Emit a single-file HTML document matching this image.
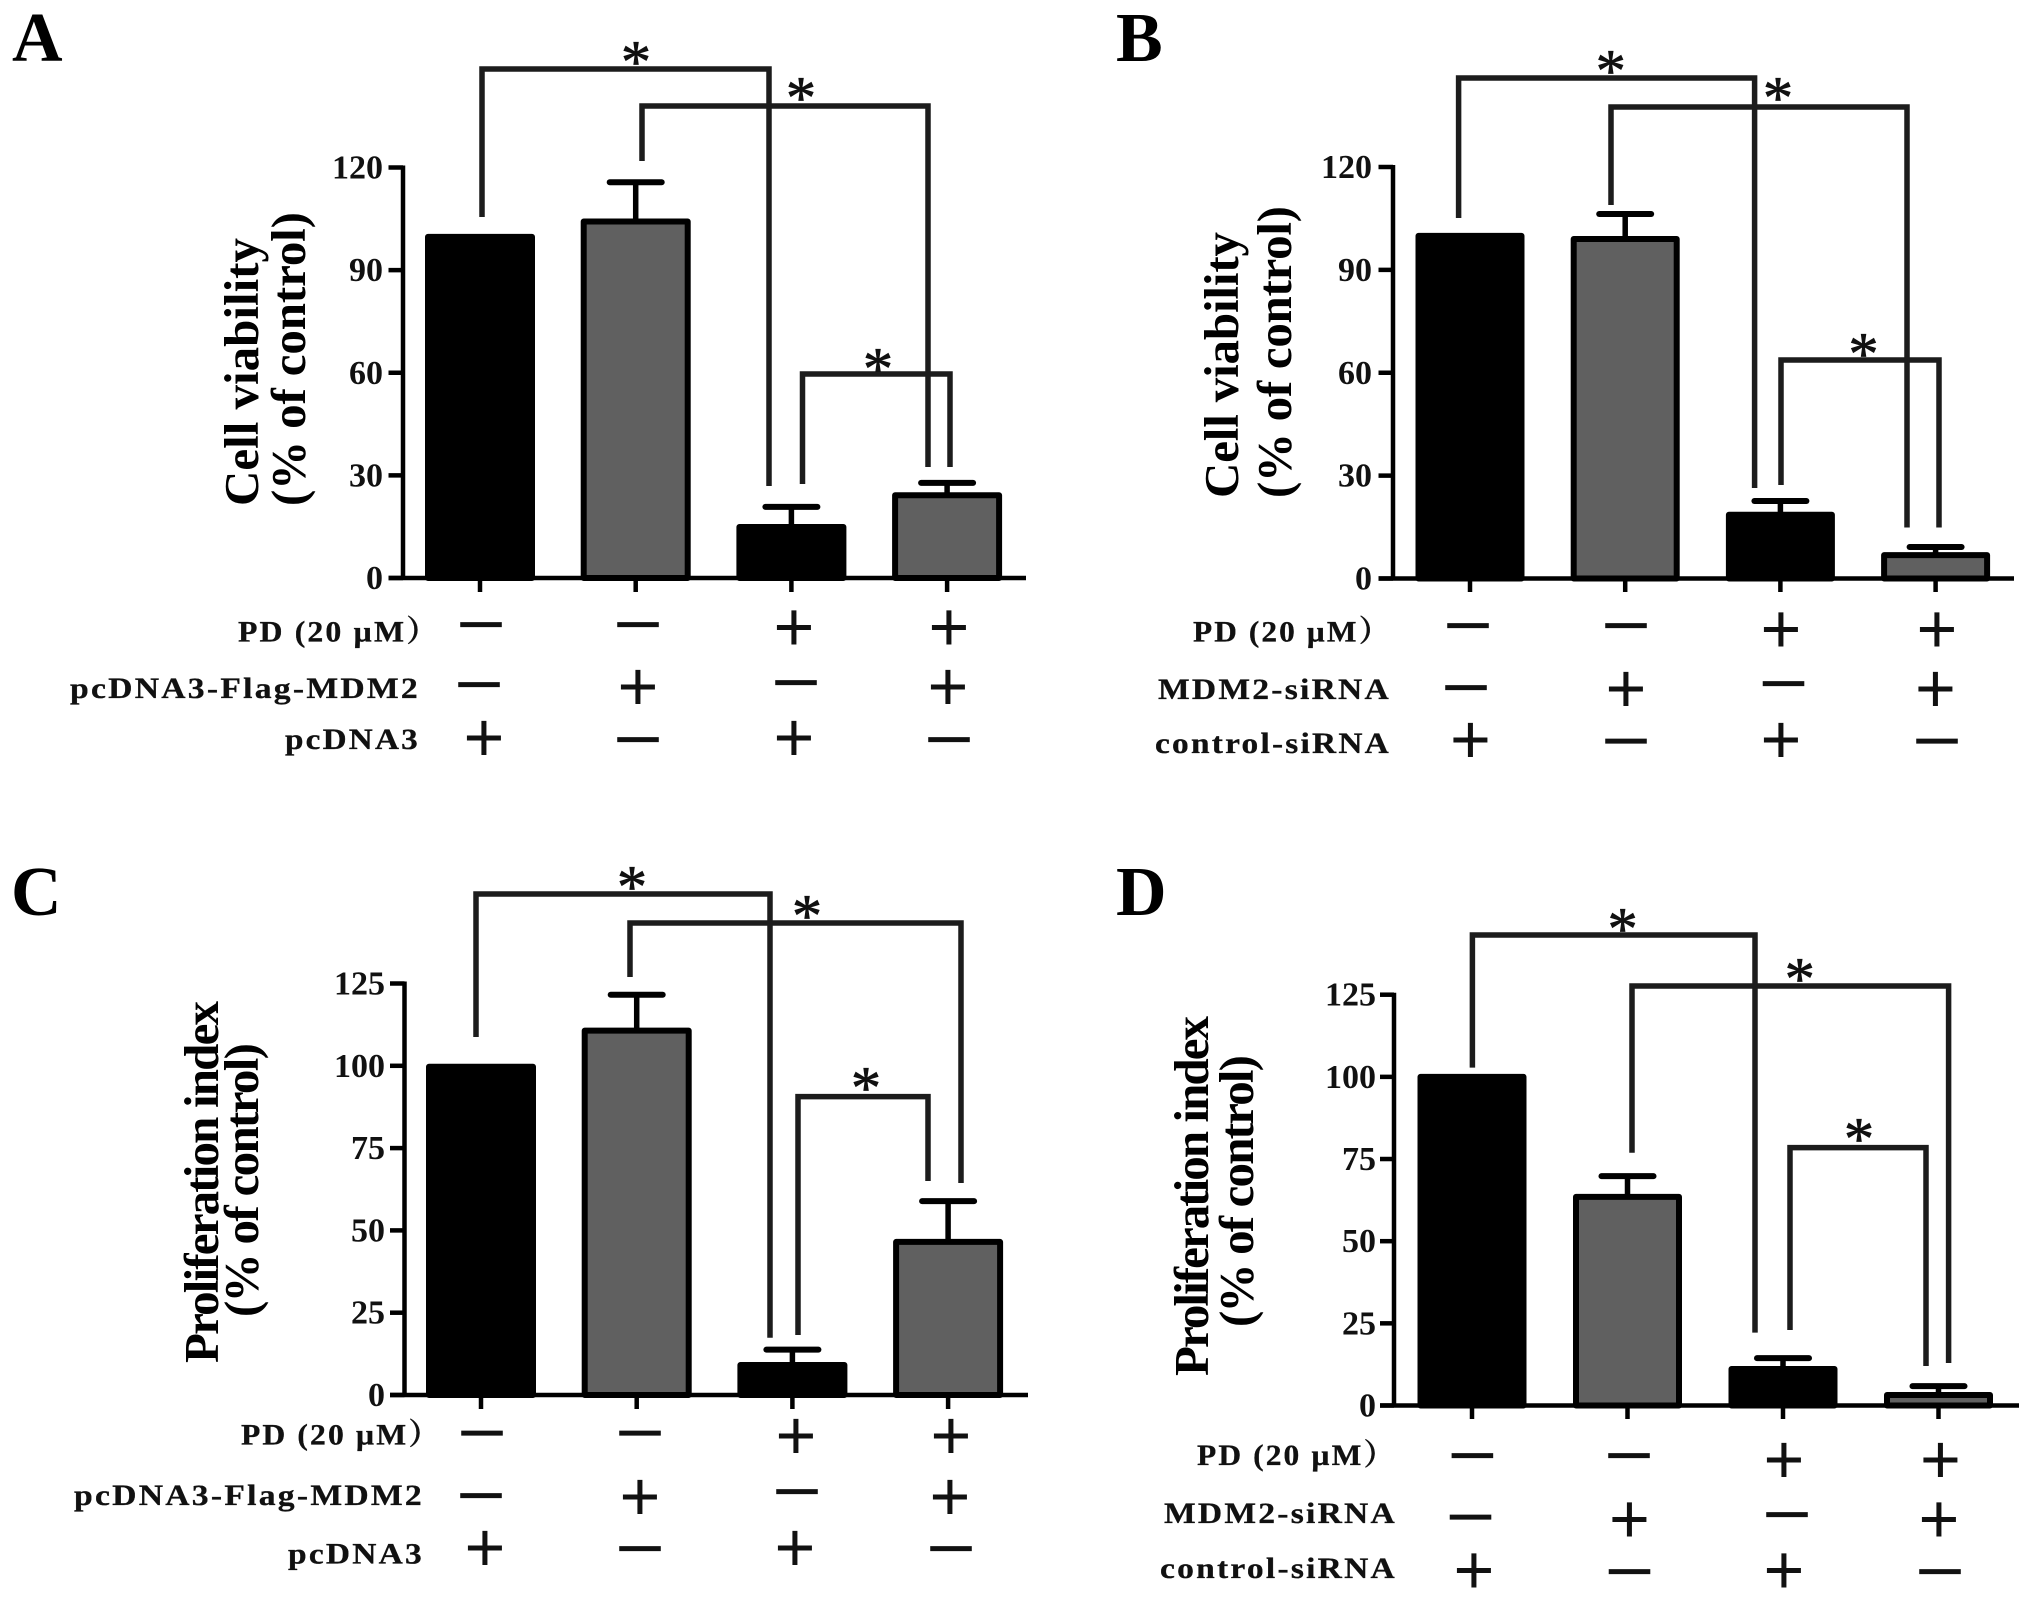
<!DOCTYPE html>
<html lang="en">
<head>
<meta charset="utf-8">
<title>Cell viability and proliferation panels</title>
<style>
html,body{margin:0;padding:0;background:#fff;}
#figure{display:block;width:2031px;height:1599px;background:#fff;}
.letter{font:bold 70px "Liberation Serif",serif;fill:#000;}
.title{font:bold 49px "Liberation Serif",serif;fill:#000;}
.row{font:bold 30px "Liberation Serif","Noto Serif CJK SC",serif;fill:#111;letter-spacing:2px;stroke:#111;stroke-width:.3px;}
.tick{font:bold 34px "Liberation Serif",serif;fill:#111;text-anchor:end;}
.star{font:60px "Liberation Serif",serif;fill:#111;stroke:#111;stroke-width:.8px;text-anchor:middle;}
.sign{font-family:"Liberation Sans",sans-serif;fill:#111;text-anchor:middle;}
</style>
</head>
<body>
<svg id="figure" xmlns="http://www.w3.org/2000/svg" width="2031" height="1599" viewBox="0 0 2031 1599">
  <g id="panel-a">
    <text class="letter" x="12" y="61">A</text>
    <text class="title" transform="translate(258,506) rotate(-90)" textLength="268">Cell viability</text>
    <text class="title" transform="translate(305,506) rotate(-90)" textLength="294">(% of control)</text>
    <text class="row" x="238" y="641.5" textLength="202" lengthAdjust="spacingAndGlyphs">PD (20 µM）</text>
    <text class="row" x="70" y="698" textLength="350" lengthAdjust="spacingAndGlyphs">pcDNA3-Flag-MDM2</text>
    <text class="row" x="285" y="749" textLength="135" lengthAdjust="spacingAndGlyphs">pcDNA3</text>
  </g>
  <g id="panel-b">
    <text class="letter" x="1116" y="61">B</text>
    <text class="title" transform="translate(1238,498) rotate(-90)" textLength="266">Cell viability</text>
    <text class="title" transform="translate(1291,498) rotate(-90)" textLength="292">(% of control)</text>
    <text class="row" x="1193" y="641.5" textLength="199" lengthAdjust="spacingAndGlyphs">PD (20 µM）</text>
    <text class="row" x="1158" y="699" textLength="233" lengthAdjust="spacingAndGlyphs">MDM2-siRNA</text>
    <text class="row" x="1155" y="753" textLength="236" lengthAdjust="spacingAndGlyphs">control-siRNA</text>
  </g>
  <g id="panel-c">
    <text class="letter" x="11" y="915">C</text>
    <text class="title" transform="translate(218,1363) rotate(-90)" textLength="362">Proliferation index</text>
    <text class="title" transform="translate(258,1317) rotate(-90)" textLength="274">(% of control)</text>
    <text class="row" x="241" y="1444.5" textLength="201" lengthAdjust="spacingAndGlyphs">PD (20 µM）</text>
    <text class="row" x="74" y="1505" textLength="350" lengthAdjust="spacingAndGlyphs">pcDNA3-Flag-MDM2</text>
    <text class="row" x="288" y="1563.5" textLength="136" lengthAdjust="spacingAndGlyphs">pcDNA3</text>
  </g>
  <g id="panel-d">
    <text class="letter" x="1116" y="915">D</text>
    <text class="title" transform="translate(1208,1376) rotate(-90)" textLength="360">Proliferation index</text>
    <text class="title" transform="translate(1253,1327) rotate(-90)" textLength="272">(% of control)</text>
    <text class="row" x="1197" y="1465" textLength="200" lengthAdjust="spacingAndGlyphs">PD (20 µM）</text>
    <text class="row" x="1164" y="1523" textLength="233" lengthAdjust="spacingAndGlyphs">MDM2-siRNA</text>
    <text class="row" x="1160" y="1578" textLength="237" lengthAdjust="spacingAndGlyphs">control-siRNA</text>
  </g>
</svg>
<script>
// ---- chart data ----
const panelATicks = [0, 30, 60, 90, 120];
const panelAValues = [100, 104.5, 15.2, 24.5];
const panelAErrors = [0, 11.2, 5.6, 3.3];
const panelASigns = [['−','−','+','+'], ['−','+','−','+'], ['+','−','+','−']];

const panelBTicks = [0, 30, 60, 90, 120];
const panelBValues = [100.2, 99.3, 18.9, 7.1];
const panelBErrors = [0, 7, 3.7, 2.1];
const panelBSigns = [['−','−','+','+'], ['−','+','−','+'], ['+','−','+','−']];

const panelCTicks = [0, 25, 50, 75, 100, 125];
const panelCValues = [100, 111, 9.4, 46.8];
const panelCErrors = [0, 10.6, 4.4, 12.1];
const panelCSigns = [['−','−','+','+'], ['−','+','−','+'], ['+','−','+','−']];

const panelDTicks = [0, 25, 50, 75, 100, 125];
const panelDValues = [100.3, 63.8, 11.4, 3.5];
const panelDErrors = [0, 6, 3, 2.4];
const panelDSigns = [['−','−','+','+'], ['−','+','−','+'], ['+','−','+','−']];

// ---- panel geometry (layout only) ----
const panelLayouts = [
  {id:'a', ticks:panelATicks, values:panelAValues, errors:panelAErrors, signs:panelASigns,
   axisX:403, yTop:167.5, y0:578, yMax:120, tickLeft:388.5, axisEnd:1026, tickBottom:592,
   xFirst:480, xStep:155.7, barW:110, labelRight:383,
   brackets:[[482,217,69,769,486],[642,161,106,928,467],[802.5,484,374,950,467]],
   stars:[[636,54],[801,90],[878,361]],
   signAt:[[[481,625],[638,625],[794,626.5],[949,626.5]],[[479,685],[638,686],[796,683],[948,686]],[[484,737],[638,740],[794,737],[949,740]]]},
  {id:'b', ticks:panelBTicks, values:panelBValues, errors:panelBErrors, signs:panelBSigns,
   axisX:1393, yTop:167, y0:578.5, yMax:120, tickLeft:1378.5, axisEnd:2014, tickBottom:592,
   xFirst:1470, xStep:155.2, barW:109, labelRight:1372,
   brackets:[[1458.6,218,78,1754.6,488],[1611,205,107,1907,527.5],[1781,485,360,1939,527.5]],
   stars:[[1610.7,63],[1778,90],[1863.5,346]],
   signAt:[[[1468,626],[1626,626],[1781,628.5],[1937,628.5]],[[1466,688],[1626,688],[1783.5,684],[1935.5,688]],[[1470.5,739],[1626,741.6],[1781,739],[1937,741.6]]]},
  {id:'c', ticks:panelCTicks, values:panelCValues, errors:panelCErrors, signs:panelCSigns,
   axisX:404.5, yTop:983.5, y0:1395, yMax:125, tickLeft:390, axisEnd:1028, tickBottom:1409,
   xFirst:481, xStep:155.7, barW:110, labelRight:385,
   brackets:[[476,1037,894,770,1337.7],[630,977,923,961,1183],[798,1335,1096.6,928,1181]],
   stars:[[632,879],[807,908],[866,1080]],
   signAt:[[[482,1433.5],[640,1433.5],[796,1435],[951,1435]],[[481,1496],[640,1496],[797,1492],[950,1496]],[[485,1547],[640,1549],[795,1547],[951,1549]]]},
  {id:'d', ticks:panelDTicks, values:panelDValues, errors:panelDErrors, signs:panelDSigns,
   axisX:1394, yTop:994.7, y0:1405.5, yMax:125, tickLeft:1380, axisEnd:2019, tickBottom:1419,
   xFirst:1472, xStep:155.5, barW:109, labelRight:1376,
   brackets:[[1472.4,1067.6,935,1755,1332.6],[1632,1152.7,986,1948.6,1363],[1790,1330,1147.6,1926,1366]],
   stars:[[1622.6,921],[1799.7,971],[1859,1131]],
   signAt:[[[1472.4,1456],[1629,1456],[1784,1459],[1940.5,1459]],[[1470.5,1517.6],[1629.5,1518.6],[1787,1515],[1939,1518.6]],[[1474,1569.6],[1629.5,1572],[1784,1569.6],[1940,1572]]]}
];

const NS = 'http://www.w3.org/2000/svg';
function make(parent, tag, attrs, text) {
  const el = document.createElementNS(NS, tag);
  for (const k in attrs) el.setAttribute(k, attrs[k]);
  if (text !== undefined) el.textContent = text;
  parent.appendChild(el);
  return el;
}

panelLayouts.forEach(function (p) {
  const root = document.getElementById('panel-' + p.id);
  const xScale = function (i) { return p.xFirst + i * p.xStep; };
  const yScale = function (v) { return p.y0 - (v / p.yMax) * (p.y0 - p.yTop); };

  // bars
  p.values.forEach(function (v, i) {
    const cx = xScale(i);
    const top = yScale(v);
    const bar = make(root, 'rect', {
      x: cx - p.barW / 2 + 3, y: top + 1, width: p.barW - 6, height: Math.max(0, p.y0 - top - 1),
      fill: i % 2 === 0 ? '#000' : '#606060', stroke: '#000', 'stroke-width': 6, 'stroke-linejoin': 'round'
    });
    
    
    if (p.errors[i] > 0) {
      const errTop = yScale(v + p.errors[i]);
      const stem = make(root, 'line', {x1: cx, x2: cx, y1: top, y2: errTop, stroke: '#000', 'stroke-width': 5.5});
      
      
      const cap = make(root, 'line', {x1: cx - 26, x2: cx + 26, y1: errTop, y2: errTop, stroke: '#000', 'stroke-width': 6, 'stroke-linecap': 'round'});
      
      
    }
  });

  // axes
  const yAxis = make(root, 'line', {x1: p.axisX, x2: p.axisX, y1: yScale(p.yMax) - 2, y2: p.y0 + 2, stroke: '#000', 'stroke-width': 4.5});
  
  
  const xAxis = make(root, 'line', {x1: p.tickLeft, x2: p.axisEnd, y1: p.y0, y2: p.y0, stroke: '#000', 'stroke-width': 4.5});
  
  

  p.ticks.forEach(function (t) {
    const y = yScale(t);
    const mark = make(root, 'line', {x1: p.tickLeft, x2: p.axisX, y1: y, y2: y, stroke: '#000', 'stroke-width': 4.5});
    
    
    const label = make(root, 'text', {'class': 'tick', x: p.labelRight, y: y + 11}, String(t));
    
    
  });

  p.values.forEach(function (v, i) {
    const mark = make(root, 'line', {x1: xScale(i), x2: xScale(i), y1: p.y0, y2: p.tickBottom, stroke: '#000', 'stroke-width': 4.5});
    
    
  });

  // significance brackets
  p.brackets.forEach(function (b, i) {
    const path = make(root, 'path', {
      d: 'M' + b[0] + ' ' + b[1] + 'V' + b[2] + 'H' + b[3] + 'V' + b[4],
      fill: 'none', stroke: '#1c1c1c', 'stroke-width': 5.5
    });
    
    
  });
  p.stars.forEach(function (s, i) {
    const star = make(root, 'text', {'class': 'star', x: s[0], y: s[1] + 28}, '*');
    
    
  });

  // treatment +/- table
  p.signs.forEach(function (row, r) {
    row.forEach(function (sign, c) {
      const at = p.signAt[r][c];
      const isPlus = sign === '+';
      const attrs = isPlus
        ? {'class': 'sign', x: at[0], y: at[1] + 24, 'font-size': 70}
        : {'class': 'sign', x: at[0], y: at[1] + 23, 'font-size': 70, textLength: 50, lengthAdjust: 'spacingAndGlyphs'};
      const el = make(root, 'text', attrs, sign);
      
      
    });
  });
});
</script>
</body>
</html>
